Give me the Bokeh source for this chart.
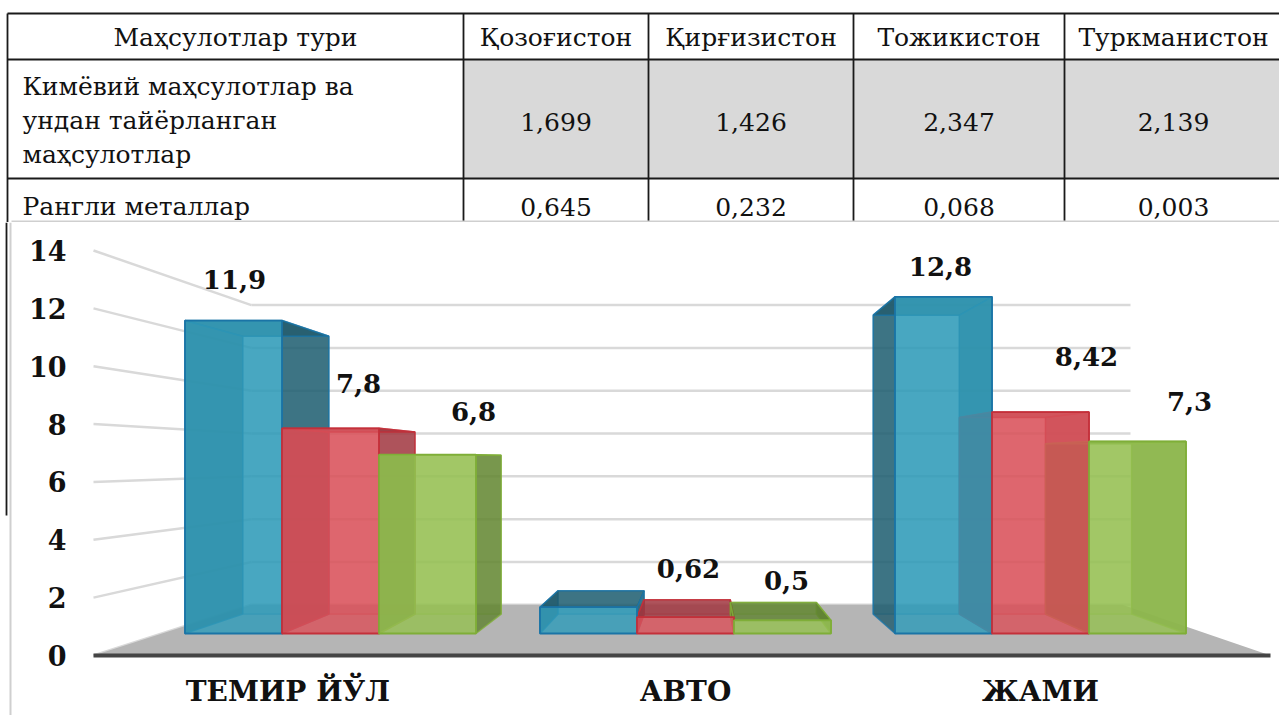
from bokeh.plotting import figure
from bokeh.layouts import column
from bokeh.models import Range1d, LinearAxis, FixedTicker
from bokeh.embed import file_html
from bokeh.resources import INLINE
from bokeh.core.properties import value

# ---------------- data ----------------
table_columns = ["Маҳсулотлар тури", "Қозоғистон", "Қирғизистон", "Тожикистон", "Туркманистон"]
row1_name = ["Кимёвий маҳсулотлар ва", "ундан тайёрланган", "маҳсулотлар"]
row1_values = ["1,699", "1,426", "2,347", "2,139"]
row2_name = ["Рангли металлар"]
row2_values = ["0,645", "0,232", "0,068", "0,003"]

categories = ["ТЕМИР ЙЎЛ", "АВТО", "ЖАМИ"]
series1 = [11.9, 1.0, 12.8]
series2 = [7.8, 0.62, 8.42]
series3 = [6.8, 0.5, 7.3]
y_ticks = [0, 2, 4, 6, 8, 10, 12, 14]

# ---------------- layout / style ----------------
PAGE_W = 1279
TABLE_BOTTOM = 222
CHART_BOTTOM = 715
AXIS_X = 85
XAXIS_Y = 665

FONT_NAME = "DejaVu Serif"
SERIF = value(FONT_NAME)

# ---------------- table ----------------
tbl = figure(width=PAGE_W, height=TABLE_BOTTOM,
             x_range=Range1d(0, PAGE_W), y_range=Range1d(TABLE_BOTTOM, 0),
             toolbar_location=None, output_backend="svg", min_border=0,
             min_border_left=0, min_border_right=0, min_border_top=0, min_border_bottom=0,
             x_axis_location=None, y_axis_location=None, outline_line_color=None)
tbl.grid.visible = False

col_edges = [7, 463, 648, 853, 1064, 1282]
row_edges = [13, 59, 178]
col_centers = [(a + b) / 2 for a, b in zip(col_edges[:-1], col_edges[1:])]

tbl.quad(left=col_edges[1], right=1300, top=row_edges[1], bottom=row_edges[2],
         fill_color="#d9d9d9", line_color=None)
tbl.segment(x0=[col_edges[0]] * 3, x1=[1300] * 3, y0=row_edges, y1=row_edges,
            line_color="#1a1a1a", line_width=1.8)
tbl.segment(x0=col_edges[:5], x1=col_edges[:5], y0=[row_edges[0]] * 5, y1=[TABLE_BOTTOM] * 5,
            line_color="#1a1a1a", line_width=1.8)
tbl.segment(x0=[11], x1=[1300], y0=[TABLE_BOTTOM - 1], y1=[TABLE_BOTTOM - 1],
            line_color="#cfcfcf", line_width=2)

tfont = dict(text_font=SERIF, text_font_size="25px", text_color="#111111", text_baseline="middle")
tbl.text(x=col_centers, y=[37] * 5, text=table_columns, text_align="center", **tfont)
tbl.text(x=[22] * 3, y=[row_edges[1] + 27 + 34 * i for i in range(3)], text=row1_name,
         text_align="left", **tfont)
tbl.text(x=col_centers[1:], y=[121] * 4, text=row1_values, text_align="center", **tfont)
tbl.text(x=[22], y=[row_edges[2] + 28], text=row2_name, text_align="left", **tfont)
tbl.text(x=col_centers[1:], y=[row_edges[2] + 28] * 4, text=row2_values,
         text_align="center", **tfont)

# ---------------- chart ----------------
K = 26.3      # px per unit in bar plane
Y0 = 633      # px of bar base
KF = 28.93    # px per unit in front (axis) plane
YF0 = 655     # px of front zero line
UNIT = 355    # px per category
XC1 = 685     # px of middle category
VPX, VPY = 700, 460   # vanishing point (px)
D_BAR = 0.112
D_WALL = 0.26
AX_X = 93
GRID_END = 1130
FLOOR_RIGHT = 1270


def px2x(px):
    return 1 + (px - XC1) / UNIT


def px2y(py):
    return (Y0 - py) / K


def fy(f):
    return YF0 - KF * f


ch = figure(width=PAGE_W, height=CHART_BOTTOM - TABLE_BOTTOM,
            x_range=Range1d(px2x(0), px2x(PAGE_W)),
            y_range=Range1d(px2y(CHART_BOTTOM), px2y(TABLE_BOTTOM)),
            toolbar_location=None, output_backend="svg", min_border=0,
            min_border_left=0, min_border_right=0, min_border_top=0, min_border_bottom=0,
            x_axis_location=None, y_axis_location=None, outline_line_color=None)
ch.grid.visible = False
ch.extra_y_ranges = {"front": Range1d((YF0 - CHART_BOTTOM) / KF, (YF0 - TABLE_BOTTOM) / KF)}

yax = LinearAxis(y_range_name="front", ticker=FixedTicker(ticks=y_ticks),
                 fixed_location=px2x(AXIS_X))
ch.add_layout(yax, "left")

label_shift = [-0.12, 0, 0]
xticks = [i + label_shift[i] for i in range(len(categories))]
xax = LinearAxis(ticker=FixedTicker(ticks=xticks), fixed_location=px2y(XAXIS_Y),
                 major_label_overrides={t: c for t, c in zip(xticks, categories)})
ch.add_layout(xax, "below")

for ax in (yax, xax):
    ax.axis_line_color = None
    ax.major_tick_line_color = None
    ax.minor_tick_line_color = None
    ax.major_tick_out = 0
    ax.major_tick_in = 0
    ax.major_label_text_font = FONT_NAME
    ax.major_label_text_font_style = "bold"
    ax.major_label_text_color = "#111111"
yax.major_label_text_font_size = "27px"
xax.major_label_text_font_size = "28px"
yax.major_label_standoff = 19
xax.major_label_standoff = 9

# borders of the chart picture
ch.segment(x0=[px2x(10)], x1=[px2x(10)], y0=[px2y(TABLE_BOTTOM)], y1=[px2y(CHART_BOTTOM)],
           line_color="#cfcfcf", line_width=2)
ch.segment(x0=[px2x(6)], x1=[px2x(6)], y0=[px2y(TABLE_BOTTOM)], y1=[px2y(515)],
           line_color="#1a1a1a", line_width=1.8)

# back wall grid lines (slanted at left, then horizontal)
gx0, gy0, gx1, gy1 = [], [], [], []
for f in y_ticks:
    fx, fyv = AX_X, fy(f)
    bx = fx + D_WALL * (VPX - fx)
    by = fyv + D_WALL * (VPY - fyv)
    gx0 += [px2x(fx), px2x(bx)]
    gy0 += [px2y(fyv), px2y(by)]
    gx1 += [px2x(bx), px2x(GRID_END)]
    gy1 += [px2y(by), px2y(by)]
ch.segment(x0=gx0, y0=gy0, x1=gx1, y1=gy1, line_color="#d9d9d9", line_width=2.5)

# floor
lb = (AX_X + D_WALL * (VPX - AX_X), YF0 + D_WALL * (VPY - YF0))
rb = (FLOOR_RIGHT + D_WALL * (VPX - FLOOR_RIGHT), YF0 + D_WALL * (VPY - YF0))
ch.patch(x=[px2x(AX_X), px2x(lb[0]), px2x(rb[0]), px2x(FLOOR_RIGHT)],
         y=[px2y(YF0), px2y(lb[1]), px2y(rb[1]), px2y(YF0)],
         fill_color="#b5b5b5", line_color=None)
ch.segment(x0=[px2x(AX_X)], x1=[px2x(FLOOR_RIGHT)], y0=[px2y(YF0)], y1=[px2y(YF0)],
           line_color="#454545", line_width=4)

# bars as transparent boxes
BW = 97 / UNIT
vp = (px2x(VPX), px2y(VPY))
S_FRONT = ["#2f9bb8", "#d9525a", "#95c052"]
S_SIDE = ["#1f5a6c", "#9c3740", "#5f8230"]
S_LINE = ["#1a74a6", "#c4303a", "#7fae38"]
all_series = [series1, series2, series3]


def back(p):
    return (p[0] + D_BAR * (vp[0] - p[0]), p[1] + D_BAR * (vp[1] - p[1]))


all_faces = []
for j, ser in enumerate(all_series):
    faces = {"back": ([], []), "left": ([], []), "right": ([], []), "top": ([], []), "front": ([], [])}
    for i, v in enumerate(ser):
        xl = i + (j - 1.5) * BW
        xr = xl + BW
        fl_b, fr_b, fr_t, fl_t = (xl, 0), (xr, 0), (xr, v), (xl, v)
        bl_b, br_b, br_t, bl_t = back(fl_b), back(fr_b), back(fr_t), back(fl_t)
        polys = {
            "back": [bl_b, br_b, br_t, bl_t],
            "left": [fl_b, fl_t, bl_t, bl_b],
            "right": [fr_b, fr_t, br_t, br_b],
            "top": [fl_t, fr_t, br_t, bl_t],
            "front": [fl_b, fr_b, fr_t, fl_t],
        }
        for k, pts in polys.items():
            faces[k][0].append([p[0] for p in pts])
            faces[k][1].append([p[1] for p in pts])
    all_faces.append(faces)

# back faces of every box, then side/top faces, then the front faces
for j, faces in enumerate(all_faces):
    ch.patches(xs=faces["back"][0], ys=faces["back"][1], fill_color=S_FRONT[j], fill_alpha=0.35,
               line_color=S_LINE[j], line_alpha=0.6, line_width=1.2)
for j, faces in enumerate(all_faces):
    for k in ("left", "right", "top"):
        ch.patches(xs=faces[k][0], ys=faces[k][1], fill_color=S_SIDE[j], fill_alpha=0.8,
                   line_color=S_LINE[j], line_alpha=0.8, line_width=1.5)
for j, faces in enumerate(all_faces):
    ch.patches(xs=faces["front"][0], ys=faces["front"][1], fill_color=S_FRONT[j], fill_alpha=0.82,
               line_color=S_LINE[j], line_width=1.8)

# value labels
LABEL_SHOW = [[True, False, True], [True, True, True], [True, True, True]]
LABEL_DX = [[1, 0, -3], [28, 3, 46], [46, 4, 52]]
LABEL_DY = [[41, 0, 30], [45, 49, 56], [43, 40, 40]]
lx, ly, lt = [], [], []
for j, ser in enumerate(all_series):
    for i, v in enumerate(ser):
        if not LABEL_SHOW[j][i]:
            continue
        xc = i + (j - 1) * BW
        lx.append(xc + LABEL_DX[j][i] / UNIT)
        ly.append(v + LABEL_DY[j][i] / K)
        lt.append(("%g" % v).replace(".", ","))
ch.text(x=lx, y=ly, text=lt, text_font=SERIF, text_font_style="bold", text_font_size="26px",
        text_color="#111111", text_align="center", text_baseline="middle")

layout = column(tbl, ch, spacing=0)
open("out.html", "w").write(file_html(layout, INLINE))
